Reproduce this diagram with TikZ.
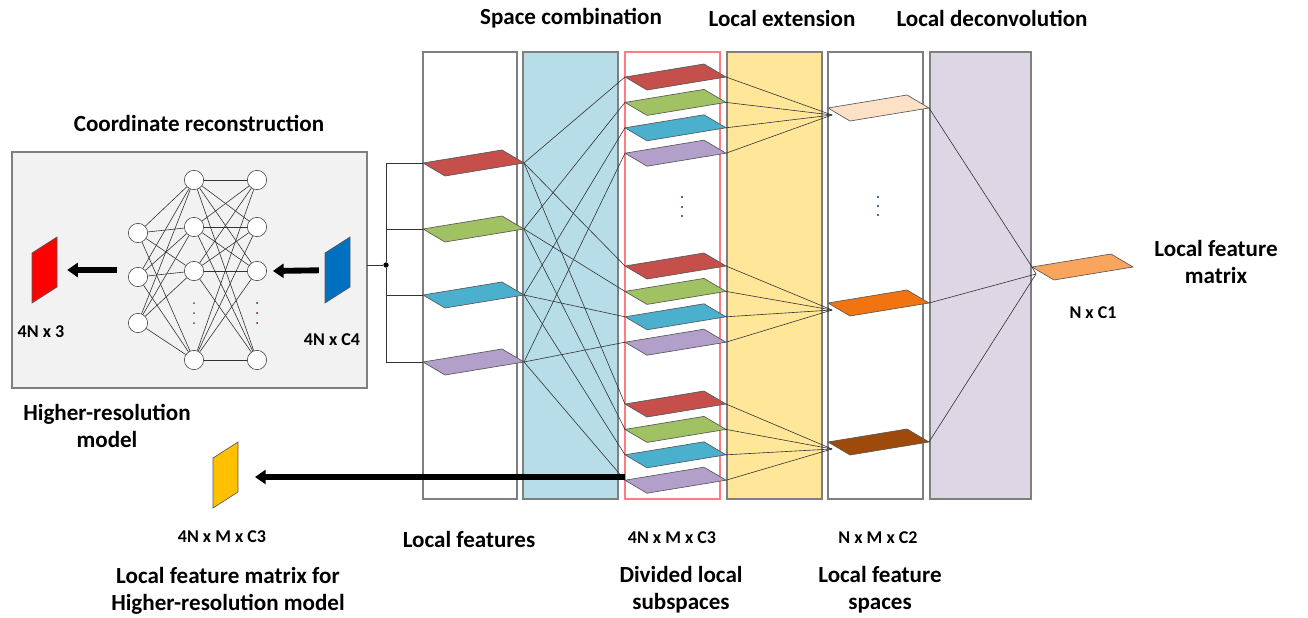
\documentclass[tikz,border=0pt]{standalone}
\usepackage{fontspec}
\setmainfont{Carlito}
\usetikzlibrary{arrows.meta}

\definecolor{boxgray}{HTML}{F2F2F2}
\definecolor{edgegray}{HTML}{7F7F7F}
\definecolor{combblue}{HTML}{B7DDE8}
\definecolor{divred}{HTML}{FF7C80}
\definecolor{extyellow}{HTML}{FFE699}
\definecolor{deconv}{HTML}{DCD6E5}
\definecolor{pred}{HTML}{C5504B}
\definecolor{pgreen}{HTML}{A0C263}
\definecolor{pblue}{HTML}{4BB0CD}
\definecolor{ppurple}{HTML}{B29FCA}
\definecolor{ppeach}{HTML}{FDE1C6}
\definecolor{porange}{HTML}{F17411}
\definecolor{pbrown}{HTML}{9E4A0B}
\definecolor{poutput}{HTML}{F9A55E}
\definecolor{vred}{HTML}{FF0000}
\definecolor{vblue}{HTML}{0070C0}
\definecolor{vyellow}{HTML}{FFC000}
\definecolor{dotblue}{HTML}{1F3864}

\tikzset{
  column/.style={draw=edgegray, line width=1pt},
  plate/.style={draw=black!65, line width=0.5pt},
  neuron/.style={circle, draw=black!80, fill=white, minimum size=14.5pt, inner sep=0pt},
  wire/.style={draw=black!80, line width=0.45pt},
  thick arrow/.style={line width=4.4pt, -{Triangle[length=8pt,width=10.5pt]}},
  title/.style={font=\fontsize{17.3}{20.5}\selectfont\bfseries, align=center},
  dims/.style={font=\fontsize{13.5}{15}\selectfont\bfseries, align=center},
  dot/.style={circle, fill=black, inner sep=0pt, minimum size=4pt},
}

% flat plate: name, x and y of the left tip, fill colour
\newcommand{\plate}[4]{%
  \draw[plate, fill=#4] (#2,#3) -- ++(79,-13) -- ++(22,13) -- ++(-79,13) -- cycle;
  \coordinate (#1-l) at (#2,#3);
  \coordinate (#1-r) at (#2+101,#3);
  \coordinate (#1-in) at (#2+4,#3+7);
}
% upright plate: name, x and y of the top left corner, fill colour
\newcommand{\vplate}[4]{%
  \draw[plate, fill=#4] (#2,#3) -- ++(25,-16) -- ++(0,50) -- ++(-25,16) -- cycle;
  \coordinate (#1-c) at (#2+12.5,#3+17);
}

\begin{document}
\begin{tikzpicture}[x=0.75pt,y=0.75pt,yscale=-1,xscale=1]
    \useasboundingbox (0,0) rectangle (1308,617);

    %Shape: reconstruction box
    \draw[draw=edgegray, fill=boxgray, line width=0.8pt] (12,152) rectangle (367,388);
    \coordinate (box-e) at (367,265);

    %Shape: columns
    \draw[column] (423,52) rectangle (517,499);
    \draw[column, fill=combblue] (523,52) rectangle (618,499);
    \draw[draw=divred, line width=1pt] (625,52) rectangle (720,499);
    \draw[column, fill=extyellow] (727,52) rectangle (822,499);
    \draw[column] (828,52) rectangle (923,499);
    \draw[column, fill=deconv] (930,52) rectangle (1031,499);

    %Neurons
    \foreach \k/\y in {1/233, 2/277, 3/323}
      \node[neuron] (i\k) at (138,\y) {};
    \foreach \k/\y in {1/180, 2/227, 3/271, 4/360} {
      \node[neuron] (a\k) at (194,\y) {};
      \node[neuron] (b\k) at (257,\y) {};
    }
    \foreach \k in {1,2,3}
      \foreach \j in {1,...,4}
        \draw[wire] (i\k) -- (a\j);
    \foreach \k in {1,...,4}
      \foreach \j in {1,...,4}
        \draw[wire] (a\k) -- (b\j);
    \foreach \y in {303,313,323} {
      \fill[black!70] (194,\y) circle (1);
      \fill[red!50!black] (257,\y) circle (1);
    }

    %Shape: upright plates
    \vplate{red}{32}{253}{vred}
    \vplate{blue}{325}{253}{vblue}
    \vplate{yel}{213}{458}{vyellow}

    \draw[thick arrow, shorten <=14pt] (blue-c) -- ([xshift=4.5pt]b3.east);
    \draw[thick arrow] ([xshift=-8pt]i2.west |- red-c) -- ([xshift=17pt]red-c);

    %Shape: local features
    \foreach \k/\y/\c in {1/163/pred, 2/229/pgreen, 3/295/pblue, 4/362/ppurple} {
      \plate{f\k}{423}{\y}{\c}
    }

    %Shape: divided local subspaces
    \foreach \g/\y in {1/77, 2/266, 3/404} {
      \foreach \k/\c in {1/pred, 2/pgreen, 3/pblue, 4/ppurple} {
        \pgfmathsetmacro\yy{\y+(\k-1)*25.4}
        \plate{d\g\k}{625}{\yy}{\c}
      }
    }
    \foreach \y in {197,207,216}
      \fill[dotblue] (682,\y) circle (1.1);

    %Shape: local feature spaces
    \plate{s1}{828}{108}{ppeach}
    \plate{s2}{828}{303}{porange}
    \plate{s3}{828}{442}{pbrown}
    \foreach \y in {197,206,215}
      \fill[dotblue] (878,\y) circle (1.1);

    %Shape: local feature matrix
    \plate{out}{1032}{267}{poutput}

    %Straight Lines
    \node[dot] (split) at (386,265) {};
    \draw[wire] (box-e) -- (split);
    \foreach \k in {1,...,4}
      \draw[wire] (split) |- (f\k-l);
    \foreach \k in {1,...,4}
      \foreach \g in {1,2,3}
        \draw[wire] (f\k-r) -- (d\g\k-l);
    \foreach \g in {1,2,3}
      \foreach \k in {1,...,4}
        \draw[wire] (d\g\k-r) -- (s\g-in);
    \draw[wire] (s1-r) -- (out-l) -- (out-in);
    \draw[wire] (s2-r) -- (out-in);
    \draw[wire] (s3-r) -- (out-in);

    \coordinate (hr-out) at (625,477);
    \coordinate (yel-in) at (255,477);
    \draw[thick arrow] (hr-out) -- (yel-in);

    % Text Node
    \node[title] (t-comb) at (571,18) {Space combination};
    \node[title] (t-ext) at (782,18) {Local extension};
    \node[title] (t-deconv) at (992,18) {Local deconvolution};
    \node[title] (t-recon) at (199,123) {Coordinate reconstruction};
    \node[title] (t-hrm) at (107,426) {Higher-resolution\\model};
    \node[title] (t-lfm) at (1216,262) {Local feature\\matrix};
    \node[title] (t-lf) at (469,539) {Local features};
    \node[title] (t-hrlfm) at (228,591) {Local feature matrix for\\Higher-resolution model};
    \node[title] (t-div) at (681,590) {Divided local\\subspaces};
    \node[title] (t-lfs) at (880,590) {Local feature\\spaces};
    % Text Node
    \node[dims] (d-out) at (1093,313) {N x C1};
    \node[dims] (d-xyz) at (41,332) {4N x 3};
    \node[dims] (d-in) at (332,340) {4N x C4};
    \node[dims] (d-hr) at (222,537) {4N x M x C3};
    \node[dims] (d-div) at (672,538) {4N x M x C3};
    \node[dims] (d-lfs) at (878,538) {N x M x C2};

\end{tikzpicture}
\end{document}
